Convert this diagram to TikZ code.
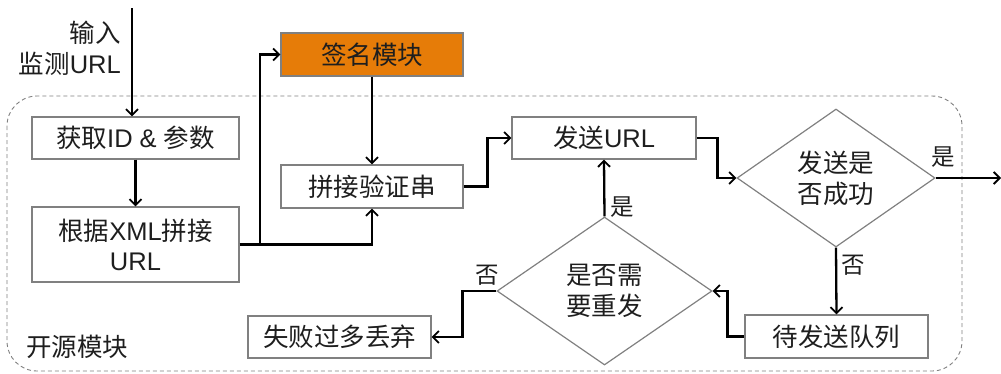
\documentclass[tikz,border=0pt]{standalone}
\usepackage{fontspec}
\setmainfont{Noto Sans CJK SC}
\newfontfamily\lat{Liberation Sans}
\usetikzlibrary{shapes.geometric,arrows.meta}
\definecolor{orangebox}{RGB}{230,124,8}
\definecolor{boxline}{RGB}{128,128,128}
\definecolor{txt}{RGB}{30,30,30}
\begin{document}
\begin{tikzpicture}[x=1pt,y=-1pt,
  font=\fontsize{25.5}{31}\selectfont, text=txt,
  box/.style={draw=boxline, line width=1.2pt, rectangle, inner sep=0pt, align=center},
  dia/.style={draw=boxline, line width=1.2pt, diamond, inner sep=0pt, align=center},
  arr/.style={-{Straight Barb[length=6pt,width=12pt,line width=1.8pt]}, line width=2.3pt, black},
  lbl/.style={font=\fontsize{23.5}{25}\selectfont, inner sep=0pt}
]
\useasboundingbox (0,0) rectangle (1001,373);
\draw[boxline, dashed, dash pattern=on 4pt off 3pt, line width=0.9pt, rounded corners=30pt] (7,96) rectangle (962,371);
\node[anchor=west, inner sep=0pt] (os) at (26,347) {开源模块};
\node[anchor=east, align=right, inner sep=0pt, font=\fontsize{25.5}{31}\selectfont] (in) at (121,48) {输入\\监测{\lat URL}};
\node[box, minimum width=207pt, minimum height=42pt] (b1) at (135.5,138) {获取{\lat ID \& }参数};
\node[box, minimum width=207pt, minimum height=75pt, font=\fontsize{25.5}{30}\selectfont] (b2) at (135.5,244.5) {根据{\lat XML}拼接\\{\lat URL}};
\node[box, fill=orangebox, minimum width=182pt, minimum height=43pt] (sig) at (372,54.5) {签名模块};
\node[box, minimum width=182pt, minimum height=43pt] (pj) at (372,186.5) {拼接验证串};
\node[box, minimum width=184pt, minimum height=42pt] (send) at (604,138) {发送{\lat URL}};
\node[dia, minimum width=198pt, minimum height=138pt, aspect=1.43] (d1) at (836,178) {发送是\\否成功};
\node[box, minimum width=183pt, minimum height=43pt] (queue) at (836.5,336.5) {待发送队列};
\node[dia, minimum width=215pt, minimum height=148pt, aspect=1.45] (d2) at (604.5,291) {是否需\\要重发};
\node[box, minimum width=183pt, minimum height=42pt] (fail) at (339.5,337) {失败过多丢弃};
\coordinate (top) at (132,8);
\coordinate (br) at (260,244);
\coordinate (out) at (1001,178);
\draw[arr] (top) -- (top |- b1.north);
\draw[arr] (b1.south) -- (b2.north);
\draw[arr] (b2.east) -| (pj.south);
\draw[arr] (br) |- (sig.west);
\draw[arr] (sig.south) -- (pj.north);
\draw[arr] (pj.east) -- ++(24,0) |- (send.west);
\draw[arr] (send.east) -- ++(21,0) |- (d1.west);
\draw[arr] (d1.east) -- (out);
\draw[arr] (d1.south) -- (queue.north);
\draw[arr] (queue.west) -- ++(-17,0) |- (d2.east);
\draw[arr] (d2.north) -- (send.south);
\draw[arr] (d2.west) -- ++(-34,0) |- (fail.east);
\node[lbl] (y1) at (943,157) {是};
\node[lbl] (n1) at (853,265) {否};
\node[lbl] (y2) at (622,207) {是};
\node[lbl] (n2) at (487,275) {否};
\end{tikzpicture}
\end{document}
